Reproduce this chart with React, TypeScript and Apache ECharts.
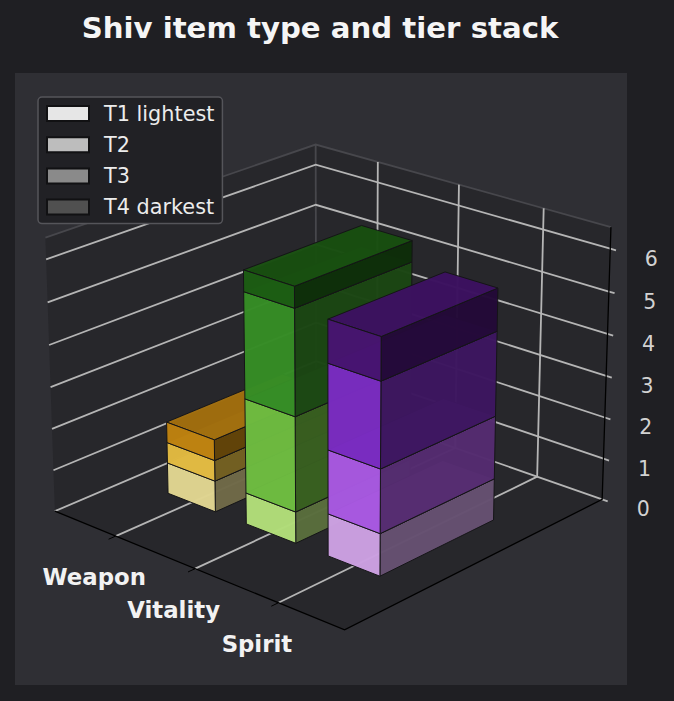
import React, { useEffect, useRef } from "react";
import * as echarts from "echarts";

const titleText = "Shiv item type and tier stack";
const categories = ["Weapon", "Vitality", "Spirit"];
const tierNames = ["T1 lightest", "T2", "T3", "T4 darkest"];
const legendSwatches = ["#e6e6e6", "#bdbdbd", "#8a8a8a", "#505050"];
const t1Values = [0.75, 0.75, 1];
const t2Values = [0.5, 2.25, 1.5];
const t3Values = [0.5, 2.5, 2];
const t4Values = [0, 0.5, 1];
const tierValues = [t1Values, t2Values, t3Values, t4Values];
const weaponColors = ["#e0d490", "#e1b941", "#bd8110", "#8a5a0c"];
const vitalityColors = ["#b1dc79", "#6dba40", "#368c26", "#1c5c13"];
const spiritColors = ["#cba0e1", "#a757e0", "#792cc0", "#471470"];
const categoryColors = [weaponColors, vitalityColors, spiritColors];
const zTicks = [0, 1, 2, 3, 4, 5, 6];

const X_MIN = -0.797, X_MAX = 2.763, Z_MAX = 6.5;
const BAR_HALF = 0.305, DEPTH_START = 0.274, DEPTH_END = 0.714;

// Camera calibration: unit-box corner -> page position
const calibration: number[][] = [
  [0, 0, 0, 55, 512], [1, 0, 0, 345, 629], [1, 1, 0, 602, 501], [0, 1, 0, 316, 398],
  [0, 0, 1, 45, 238], [0, 1, 1, 316, 145], [1, 1, 1, 611, 227],
  [0, 0, 6 / 6.5, 46, 259], [0, 1, 6 / 6.5, 316, 165], [1, 1, 6 / 6.5, 610, 248],
];

function solveCamera(): number[] {
  const n = 11;
  const M = Array.from({ length: n }, () => new Array(n + 1).fill(0));
  const add = (r: number[], t: number) => {
    for (let i = 0; i < n; i++) {
      for (let j = 0; j < n; j++) M[i][j] += r[i] * r[j];
      M[i][n] += r[i] * t;
    }
  };
  calibration.forEach(([X, Y, Z, u, v]) => {
    add([X, Y, Z, 1, 0, 0, 0, 0, -u * X, -u * Y, -u * Z], u);
    add([0, 0, 0, 0, X, Y, Z, 1, -v * X, -v * Y, -v * Z], v);
  });
  for (let c = 0; c < n; c++) {
    let p = c;
    for (let r = c + 1; r < n; r++) if (Math.abs(M[r][c]) > Math.abs(M[p][c])) p = r;
    [M[c], M[p]] = [M[p], M[c]];
    for (let r = 0; r < n; r++) {
      if (r === c) continue;
      const f = M[r][c] / M[c][c];
      for (let k = c; k <= n; k++) M[r][k] -= f * M[c][k];
    }
  }
  return M.map((row, i) => row[n] / row[i]);
}
const cam = solveCamera();
const project = (a: number, b: number, c: number): number[] => {
  const w = cam[8] * a + cam[9] * b + cam[10] * c + 1;
  return [
    (cam[0] * a + cam[1] * b + cam[2] * c + cam[3]) / w,
    (cam[4] * a + cam[5] * b + cam[6] * c + cam[7]) / w,
  ];
};
const scaleX = (x: number) => (x - X_MIN) / (X_MAX - X_MIN);
const scaleZ = (z: number) => z / Z_MAX;

const shade = (hex: string, f: number) => {
  const n = parseInt(hex.slice(1), 16);
  const ch = (s: number) => Math.round(((n >> s) & 255) * f);
  return `rgb(${ch(16)},${ch(8)},${ch(0)})`;
};

const PANE = "#27272b", EDGE = "#47474c", GRID = "#b5b5b5", FONT = "DejaVu Sans";

function poly(points: number[][], fill: string, extra: any = {}) {
  return {
    type: "polygon",
    shape: { points },
    style: { fill, stroke: "#141416", lineWidth: 1, lineJoin: "round", opacity: 0.985, ...extra },
    silent: true,
  };
}
function line(pts: number[][], stroke: string, lineWidth = 1.8) {
  return { type: "polyline", shape: { points: pts }, style: { fill: "none", stroke, lineWidth }, silent: true };
}
function label(text: string, x: number, y: number, fill: string, font: string) {
  return { type: "text", silent: true, style: { text, x, y, fill, font, align: "center", verticalAlign: "middle" } };
}

function renderScene() {
  const ch: any[] = [];
  const paneStyle = { stroke: "none", opacity: 1 };
  ch.push(poly([project(0, 0, 0), project(0, 1, 0), project(0, 1, 1), project(0, 0, 1)], PANE, paneStyle));
  ch.push(poly([project(0, 1, 0), project(1, 1, 0), project(1, 1, 1), project(0, 1, 1)], PANE, paneStyle));
  ch.push(poly([project(0, 0, 0), project(1, 0, 0), project(1, 1, 0), project(0, 1, 0)], PANE, paneStyle));
  ch.push(line([project(0, 0, 1), project(0, 1, 1), project(1, 1, 1)], EDGE));
  ch.push(line([project(0, 1, 0), project(0, 1, 1)], EDGE));
  zTicks.forEach((z) => {
    const c = scaleZ(z);
    ch.push(line([project(0, 0, c), project(0, 1, c), project(1, 1, c), project(1.018, 1, c)], GRID));
    const p = project(1, 1, c);
    ch.push(label(String(z), p[0] + 41, p[1] + 10, "#d2d2d2", `20.5px '${FONT}'`));
  });
  categories.forEach((name, i) => {
    const a = scaleX(i);
    ch.push(line([project(a, 0, 0), project(a, 1, 0), project(a, 1, 1)], GRID));
    ch.push(line([project(a, 0, 0), project(a, -0.025, 0)], "#000000", 1));
    const p = project(a, 0, 0);
    ch.push(label(name, p[0] - 21.5, p[1] + 41, "#f2f2f2", `bold 22.8px '${FONT}'`));
  });
  ch.push(line([project(1, 1, 1), project(1, 1, 0), project(1, 0, 0), project(0, 0, 0)], "#000000", 1.3));
  return ch;
}

function renderBar(params: any, api: any) {
  const cat = api.value(0), tier = api.value(1), base = api.value(2), top = api.value(3);
  const a0 = scaleX(cat - BAR_HALF), a1 = scaleX(cat + BAR_HALF);
  const b0 = DEPTH_START, b1 = DEPTH_END;
  const c0 = scaleZ(base), c1 = scaleZ(top);
  const color = categoryColors[cat][tier];
  return {
    type: "group",
    children: [
      poly([project(a1, b0, c0), project(a1, b1, c0), project(a1, b1, c1), project(a1, b0, c1)], shade(color, 0.5)),
      poly([project(a0, b0, c1), project(a1, b0, c1), project(a1, b1, c1), project(a0, b1, c1)], shade(color, 0.85)),
      poly([project(a0, b0, c0), project(a1, b0, c0), project(a1, b0, c1), project(a0, b0, c1)], color),
    ],
  };
}

const barRows: number[][] = [];
categories.forEach((_, c) => {
  let base = 0;
  tierValues.forEach((vals, t) => {
    if (vals[c] > 0) barRows.push([c, t, base, base + vals[c]]);
    base += vals[c];
  });
});

export default function App() {
  const ref = useRef<HTMLDivElement>(null);
  useEffect(() => {
    document.body.style.margin = "0";
    document.body.style.background = "#1f1f23";
    const chart = echarts.init(ref.current!, undefined, { renderer: "svg" });
    chart.setOption({
      animation: false,
      backgroundColor: "#1f1f23",
      title: {
        text: titleText, left: 315, top: 8, textAlign: "center",
        textStyle: { color: "#f5f5f5", fontFamily: FONT, fontWeight: "bold", fontSize: 29.2 },
      },
      graphic: [{
        type: "rect", z: 0, silent: true,
        shape: { x: 15, y: 73, width: 612, height: 612 },
        style: { fill: "#2f2f34" },
      }],
      legend: {
        left: 38, top: 97, orient: "vertical", selectedMode: false,
        padding: [6, 8, 6, 8], itemGap: 10.2, itemWidth: 42, itemHeight: 15,
        backgroundColor: "#212125", borderColor: "#55555a", borderWidth: 1.5, borderRadius: 4,
        textStyle: { color: "#ececec", fontFamily: FONT, fontSize: 20.8, padding: [0, 0, 0, 10] },
        data: tierNames.map((name, i) => ({
          name, icon: "rect",
          itemStyle: { color: legendSwatches[i], borderColor: "#111113", borderWidth: 2 },
        })),
      },
      series: [
        { type: "custom", name: "scene", coordinateSystem: "none", z: 1, silent: true, data: [[0]],
          renderItem: () => ({ type: "group", children: renderScene() }) },
        { type: "custom", name: "bars", coordinateSystem: "none", z: 2, silent: true, data: barRows, renderItem: renderBar },
        ...tierNames.map((name, i) => ({
          type: "custom", name, coordinateSystem: "none", data: [], renderItem: () => null,
          itemStyle: { color: legendSwatches[i] },
        })),
      ],
    });
    return () => chart.dispose();
  }, []);
  return <div ref={ref} style={{ width: 674, height: 701 }} />;
}
